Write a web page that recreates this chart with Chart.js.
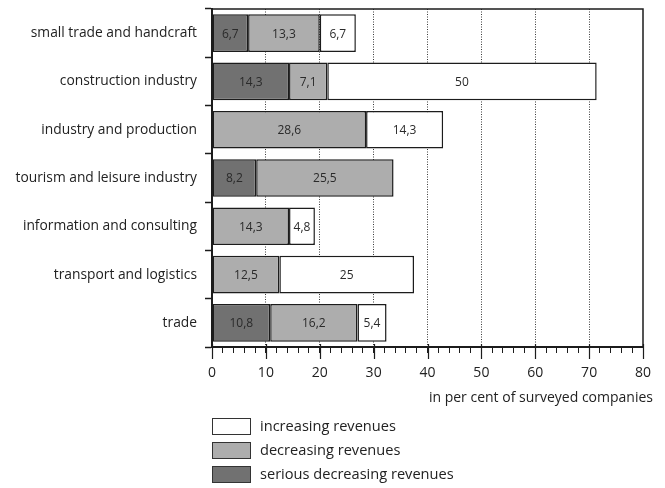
<!DOCTYPE html>
<html>
<head>
<meta charset="utf-8">
<script src="https://cdn.jsdelivr.net/npm/chart.js@4/dist/chart.umd.min.js"></script>
<style>
  html, body { margin: 0; padding: 0; background: #fff; }
  #wrap { width: 665px; height: 488px; }
</style>
</head>
<body>
<div id="wrap"><canvas id="c" width="665" height="488"></canvas></div>
<script>
// Sectors surveyed
const categories = [
  'small trade and handcraft',
  'construction industry',
  'industry and production',
  'tourism and leisure industry',
  'information and consulting',
  'transport and logistics',
  'trade'
];

// Share of companies (%) by revenue development
const seriousDecreasing = [6.7, 14.3, null, 8.2, null, null, 10.8];
const decreasing        = [13.3, 7.1, 28.6, 25.5, 14.3, 12.5, 16.2];
const increasing        = [6.7, 50, 14.3, null, 4.8, 25, 5.4];

const seriesLabels = ['serious decreasing revenues', 'decreasing revenues', 'increasing revenues'];
const axisTitle = 'in per cent of surveyed companies';

const FONT = "'Open Sans', 'Noto Sans', sans-serif";
const EDGE = '#1c1c1c';

const fmt = v => String(v).replace('.', ',');

// Writes each segment's value in its middle
const segmentLabels = {
  id: 'segmentLabels',
  afterDatasetsDraw(chart) {
    const ctx = chart.ctx;
    ctx.save();
    ctx.font = '12px ' + FONT;
    ctx.fillStyle = '#2a2a2a';
    ctx.textAlign = 'center';
    ctx.textBaseline = 'middle';
    chart.data.datasets.forEach((ds, i) => {
      chart.getDatasetMeta(i).data.forEach((bar, j) => {
        const v = ds.data[j];
        if (v == null) return;
        ctx.fillText(fmt(v), (bar.x + bar.base) / 2, bar.y + 1);
      });
    });
    ctx.restore();
  }
};

// Frame on top/right, long major ticks, axis title and the stacked legend
const frameAndLegend = {
  id: 'frameAndLegend',
  afterDraw(chart) {
    const ctx = chart.ctx;
    const a = chart.chartArea;
    const xs = chart.scales.x;
    ctx.save();
    ctx.strokeStyle = EDGE;
    ctx.lineWidth = 1.5;
    ctx.beginPath();
    ctx.moveTo(a.left, a.top);
    ctx.lineTo(a.right, a.top);
    ctx.lineTo(a.right, a.bottom);
    ctx.stroke();

    // major ticks cross the axis and reach further down
    ctx.lineWidth = 1.2;
    xs.ticks.forEach(t => {
      if (t.value % 10 !== 0) return;
      const px = Math.round(xs.getPixelForValue(t.value)) + 0.5;
      ctx.beginPath();
      ctx.moveTo(px, a.bottom - 3);
      ctx.lineTo(px, a.bottom + 12);
      ctx.stroke();
    });

    ctx.fillStyle = '#222';
    ctx.font = '14px ' + FONT;
    ctx.textAlign = 'right';
    ctx.textBaseline = 'middle';
    ctx.fillText(axisTitle, a.right + 10, 398);

    const ds = chart.data.datasets.slice().reverse();
    ctx.textAlign = 'left';
    ctx.font = '14.6px ' + FONT;
    ds.forEach((d, k) => {
      const top = 418 + k * 24;
      ctx.fillStyle = d.backgroundColor;
      ctx.fillRect(a.left, top, 39, 17);
      ctx.lineWidth = 1;
      ctx.strokeStyle = '#333';
      ctx.strokeRect(a.left + 0.5, top + 0.5, 38, 16);
      ctx.fillStyle = '#222';
      ctx.fillText(d.label, a.left + 48, top + 9);
    });
    ctx.restore();
  }
};

const barStyle = { borderColor: EDGE, borderWidth: 1.5, borderSkipped: false, barPercentage: 0.78, categoryPercentage: 1 };

new Chart(document.getElementById('c'), {
  type: 'bar',
  data: {
    labels: categories,
    datasets: [
      Object.assign({ label: seriesLabels[0], data: seriousDecreasing, backgroundColor: '#717171' }, barStyle),
      Object.assign({ label: seriesLabels[1], data: decreasing,        backgroundColor: '#adadad' }, barStyle),
      Object.assign({ label: seriesLabels[2], data: increasing,        backgroundColor: '#ffffff' }, barStyle)
    ]
  },
  options: {
    indexAxis: 'y',
    responsive: false,
    animation: false,
    devicePixelRatio: 1,
    layout: { padding: { top: 9, right: 22, bottom: 81, left: 0 } },
    plugins: { legend: { display: false }, tooltip: { enabled: false } },
    scales: {
      x: {
        stacked: true,
        min: 0, max: 80,
        afterFit: s => { s.height = 60; },
        ticks: {
          stepSize: 2, autoSkip: false, maxRotation: 0,
          padding: 12,
          color: '#222',
          font: { family: FONT, size: 14 },
          callback: v => (v % 10 === 0 ? String(v) : '')
        },
        grid: {
          drawOnChartArea: true,
          lineWidth: 1,
          color: c => (c.tick && c.tick.value % 10 === 0 && c.tick.value > 0 && c.tick.value < 80) ? '#3a3a3a' : 'rgba(0,0,0,0)',
          tickLength: 6,
          tickColor: EDGE,
          tickWidth: 1
        },
        border: { display: true, color: EDGE, width: 2, dash: [1, 1.5] }
      },
      y: {
        stacked: true,
        afterFit: s => { s.width = 212; s.paddingTop = 0; s.paddingBottom = 0; },
        ticks: {
          padding: 8,
          color: '#222',
          font: { family: FONT, size: 13.8 }
        },
        grid: {
          offset: true,
          drawOnChartArea: false,
          tickLength: 7,
          tickColor: EDGE,
          tickWidth: 1.5
        },
        border: { display: true, color: EDGE, width: 2 }
      }
    }
  },
  plugins: [segmentLabels, frameAndLegend]
});
</script>
</body>
</html>
